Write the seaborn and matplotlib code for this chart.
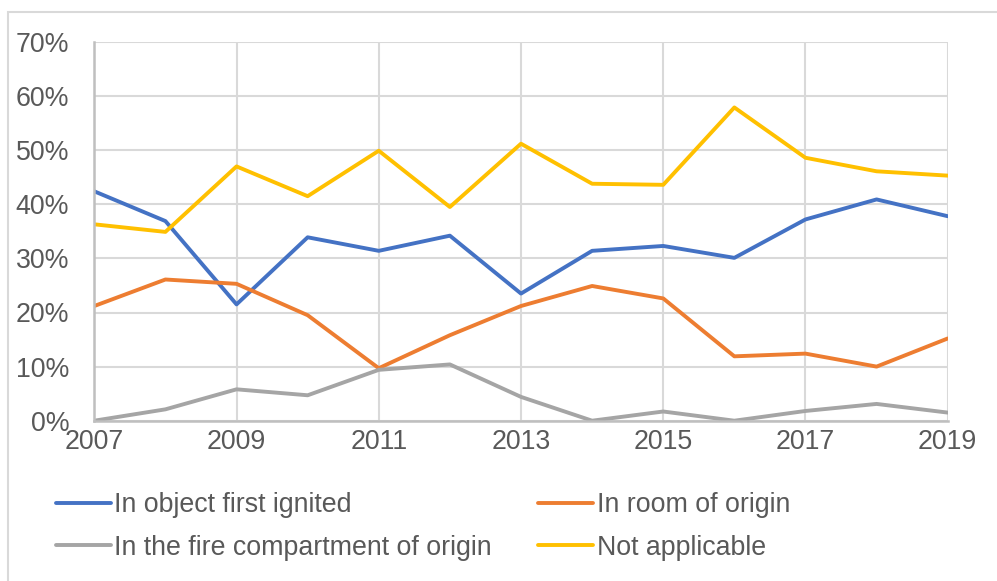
import pandas as pd
import seaborn as sns
from matplotlib import pyplot as plt
from matplotlib.patches import Rectangle
from matplotlib.ticker import PercentFormatter

# data (percent)
years = list(range(2007, 2020))
object_first = [42.4, 36.9, 21.5, 33.9, 31.4, 34.2, 23.5, 31.4, 32.3, 30.1, 37.2, 40.9, 37.8]
room_origin = [21.2, 26.1, 25.3, 19.5, 9.7, 15.8, 21.2, 24.9, 22.6, 11.9, 12.4, 10.0, 15.2]
fire_compartment = [0.0, 2.1, 5.8, 4.7, 9.4, 10.4, 4.4, 0.0, 1.7, 0.0, 1.8, 3.1, 1.5]
not_applicable = [36.3, 34.9, 47.0, 41.5, 49.9, 39.5, 51.2, 43.8, 43.6, 57.9, 48.6, 46.1, 45.3]

series = {
    "In object first ignited": object_first,
    "In room of origin": room_origin,
    "In the fire compartment of origin": fire_compartment,
    "Not applicable": not_applicable,
}
colors = ["#4472C4", "#ED7D31", "#A5A5A5", "#FFC000"]

df = pd.DataFrame([
    {"year": y, "share": v, "where": name}
    for name, vals in series.items()
    for y, v in zip(years, vals)
])

sns.set_style("white")
plt.rcParams['font.family'] = ['Liberation Sans', 'DejaVu Sans']
text_col = "#595959"
fs = 19.3

fig = plt.figure(figsize=(9.97, 5.81), dpi=100)
ax = fig.add_axes([94.3 / 997, 1 - 420.7 / 581, (947.7 - 94.3) / 997, (420.7 - 42) / 581])

sns.lineplot(data=df, x="year", y="share", hue="where", palette=colors,
             linewidth=2.8, ax=ax, legend=True)

ax.set_xlim(2007, 2019)
ax.set_ylim(0, 70)
ax.set_xticks(range(2007, 2020, 2))
ax.set_yticks(range(0, 71, 10))
ax.yaxis.set_major_formatter(PercentFormatter(decimals=0))
ax.set_xlabel("")
ax.set_ylabel("")
ax.grid(True, color="#D9D9D9", linewidth=1.5)
ax.set_axisbelow(True)
for side in ["top", "right"]:
    ax.spines[side].set_visible(False)
for side in ["left", "bottom"]:
    ax.spines[side].set_color("#BFBFBF")
    ax.spines[side].set_linewidth(1.8)
ax.tick_params(axis="both", length=0, labelsize=fs, labelcolor=text_col)
ax.tick_params(axis="y", pad=18)
ax.tick_params(axis="x", pad=6)

# legend: two columns, row-wise order like the original
handles, labels = ax.get_legend_handles_labels()
ax.get_legend().remove()
order = [0, 2, 1, 3]
leg = fig.legend([handles[i] for i in order], [labels[i] for i in order],
                 ncol=2, loc="upper left", bbox_to_anchor=(55.7 / 997, 1 - 492 / 581),
                 frameon=False, fontsize=fs, handlelength=2.05, handletextpad=0.12,
                 columnspacing=1.75, labelspacing=0.62, borderpad=0, borderaxespad=0)
for t in leg.get_texts():
    t.set_color(text_col)
for h in leg.get_lines():
    h.set_linewidth(2.8)

# light outer frame
fig.patches.append(Rectangle((8 / 997, -0.05), 1.1, 1 - 11.5 / 581 + 0.05,
                             transform=fig.transFigure, fill=False,
                             edgecolor="#D9D9D9", linewidth=1.5))

fig.savefig("out.png", dpi=100)
